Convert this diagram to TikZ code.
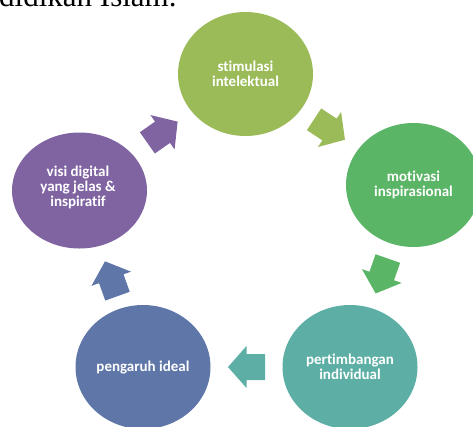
\documentclass[tikz,border=0pt]{standalone}
\usepackage{fontspec}
\setsansfont{Carlito}[Ligatures={NoCommon}]
\newfontfamily\timesserif{Liberation Serif}
\usetikzlibrary{shapes.geometric,calc}
\definecolor{cOlive}{HTML}{9BBB59}
\definecolor{cGreen}{HTML}{5BB566}
\definecolor{cTeal}{HTML}{5DAFA6}
\definecolor{cBlue}{HTML}{5F76A9}
\definecolor{cPurple}{HTML}{8064A2}
\tikzset{
  stage/.style={ellipse, minimum width=135pt, minimum height=124pt, inner sep=0pt,
    text=white, align=center,
    font=\sffamily\bfseries\fontsize{15}{14.5}\selectfont},
  stagetext/.style={text=white, align=center, inner sep=0pt,
    font=\sffamily\bfseries\fontsize{15}{15}\selectfont},
}
\newcommand\cyclearrow[3]{%
  \coordinate (am) at ($(#1)!0.5!(#2)$);
  \coordinate (at) at ($(am)!18.5pt!(#2)$);
  \coordinate (al) at ($(am)!-18.5pt!(#2)$);
  \fill[#3] (at) -- ($(am)!21pt!90:(#2)$) -- ($(am)!13pt!90:(#2)$)
    -- ($(al)!13pt!90:(#2)$) -- ($(al)!13pt!-90:(#2)$)
    -- ($(am)!13pt!-90:(#2)$) -- ($(am)!21pt!-90:(#2)$) -- cycle;
}
\begin{document}
\begin{tikzpicture}[x=1pt,y=-1pt]
\useasboundingbox (0,0) rectangle (473,426);
\node[anchor=base west, inner sep=0pt, font=\timesserif\fontsize{31}{31}\selectfont] (head) at (-1,6.5) {didikan Islam.};
\node[stage, fill=cOlive] (s1) at (245.5,74) {stimulasi\\intelektual};
\node[stage, fill=cGreen] (s2) at (413.5,185) {motivasi\\inspirasional};
\node[stage, fill=cTeal] (s3) at (350,367) {pertimbangan\\individual};
\node[stage, fill=cBlue] (s4) at (143,367) {pengaruh ideal};
\node[stage, fill=cPurple, minimum height=116pt] (s5) at (79.5,190.5) {};
\node[stagetext] (s5t) at (78,187) {visi digital\\yang jelas \&\\inspiratif};
\cyclearrow{s5}{s1}{cPurple}
\cyclearrow{s1}{s2}{cOlive}
\cyclearrow{s2}{s3}{cGreen}
\cyclearrow{s3}{s4}{cTeal}
\cyclearrow{s4}{s5}{cBlue}
\end{tikzpicture}
\end{document}
